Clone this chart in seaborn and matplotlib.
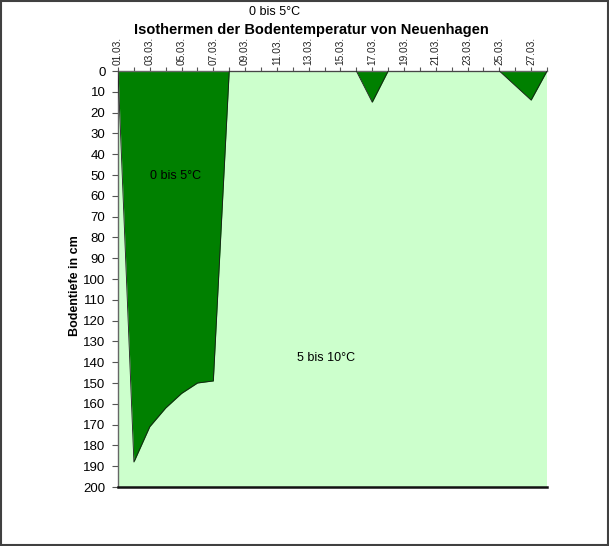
import matplotlib
matplotlib.use("Agg")
import matplotlib.pyplot as plt
import seaborn as sns
import pandas as pd
import numpy as np
from matplotlib.patches import Rectangle

sns.set_theme(style="white")
plt.rcParams['font.family'] = ['Liberation Sans', 'DejaVu Sans']
plt.rcParams['text.color'] = 'black'

# Data
days = ["01.03.", "02.03.", "03.03.", "04.03.", "05.03.", "06.03.", "07.03.",
        "08.03.", "09.03.", "10.03.", "11.03.", "12.03.", "13.03.", "14.03.",
        "15.03.", "16.03.", "17.03.", "18.03.", "19.03.", "20.03.", "21.03.",
        "22.03.", "23.03.", "24.03.", "25.03.", "26.03.", "27.03.", "28.03."]
depth_5c = [0, 188, 171, 162, 155, 150, 149, 0, 0, 0, 0, 0, 0, 0,
            0, 0, 15, 0, 0, 0, 0, 0, 0, 0, 0, 7, 14, 0]
y_ticks = list(range(0, 201, 10))

title = "Isothermen der Bodentemperatur von Neuenhagen"
ylabel = "Bodentiefe in cm"
label_cold = "0 bis 5°C"
label_warm = "5 bis 10°C"

df = pd.DataFrame({"idx": np.arange(len(days)), "day": days, "depth": depth_5c})

fig = plt.figure(figsize=(6.09, 5.46), dpi=100)
ax = fig.add_axes([118/609, 1-487/546, (547-118)/609, (487-71)/546])

ax.set_facecolor("#CCFFCC")
ax.fill_between(df["idx"], 0, df["depth"], color="#008000", linewidth=0, zorder=2)
sns.lineplot(data=df, x="idx", y="depth", ax=ax, color="#1a1a1a", linewidth=0.6,
             zorder=3, legend=False)

ax.set_xlim(0, len(days) - 1)
ax.set_ylim(200, 0)
ax.set_yticks(y_ticks)
ax.set_yticklabels([str(v) for v in y_ticks], fontsize=9.5, color="black")

ax.xaxis.tick_top()
ax.set_xticks(df["idx"])
ax.set_xticklabels([d if i % 2 == 0 else "" for i, d in enumerate(days)],
                   rotation=90, fontsize=7.3, color="#222222")
ax.tick_params(axis="x", which="major", direction="out", length=3, width=0.8,
               color="#555555", pad=1)
ax.tick_params(axis="y", which="major", direction="out", length=4, width=0.8,
               color="#555555", pad=5, left=True)

ax.set_xlabel("")
ax.set_ylabel(ylabel, fontsize=9, fontweight="bold", color="black")
ax.yaxis.set_label_coords(-0.087, 0.483)

for s in ["left", "top"]:
    ax.spines[s].set_color("#666666")
    ax.spines[s].set_linewidth(1.0)
ax.spines["bottom"].set_color("#111111")
ax.spines["bottom"].set_linewidth(1.8)
ax.spines["right"].set_visible(False)

ax.text(3.6, 50.5, label_cold, ha="center", va="center", fontsize=9, color="black", zorder=4)
ax.text(13.1, 138, label_warm, ha="center", va="center", fontsize=9, color="black", zorder=4)

fig.text(275/609, 1-12/546, label_cold, ha="center", va="center", fontsize=9, color="black")
fig.text(311/609, 1-30/546, title, ha="center", va="center", fontsize=10.5,
         fontweight="bold", color="black")

fig.patches.append(Rectangle((0.001, 0.001), 0.997, 0.997, transform=fig.transFigure,
                             fill=False, edgecolor="#404040", linewidth=1.5))

fig.savefig("out.png", dpi=100)
